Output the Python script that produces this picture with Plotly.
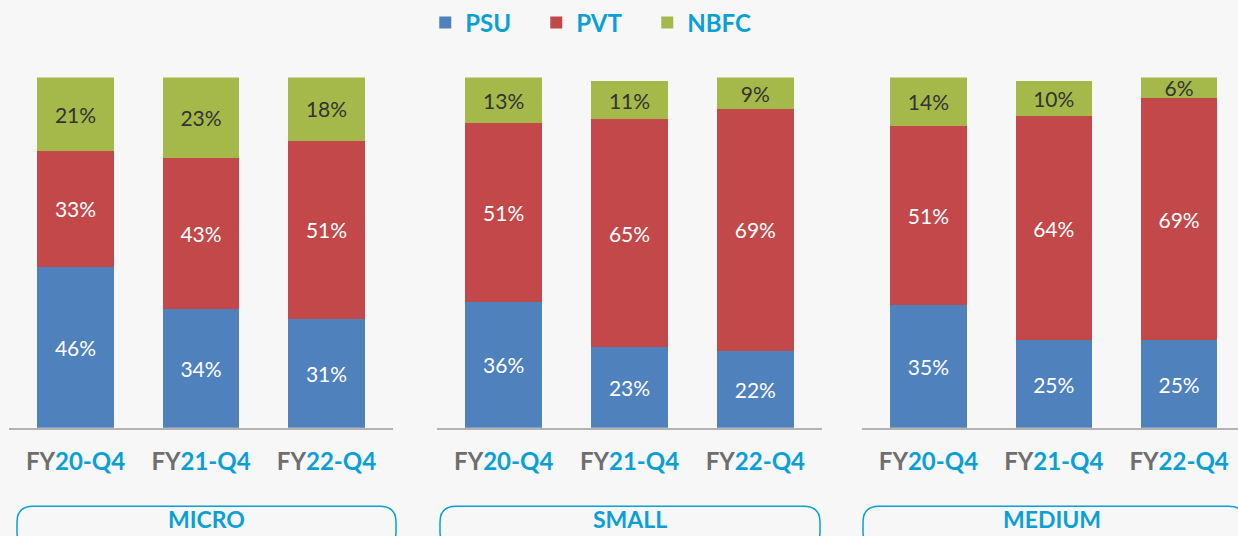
import plotly.graph_objects as go

W, H = 1238, 536

groups = ["MICRO", "SMALL", "MEDIUM"]
quarters = ["FY20-Q4", "FY21-Q4", "FY22-Q4"]
tick_fy = ["FY", "FY", "FY"]
tick_rest = ["20-Q4", "21-Q4", "22-Q4"]

psu = {"MICRO": [46, 34, 31], "SMALL": [36, 23, 22], "MEDIUM": [35, 25, 25]}
pvt = {"MICRO": [33, 43, 51], "SMALL": [51, 65, 69], "MEDIUM": [51, 64, 69]}
nbfc = {"MICRO": [21, 23, 18], "SMALL": [13, 11, 9], "MEDIUM": [14, 10, 6]}

series = [("PSU", psu, "#4f81bd", "white"),
          ("PVT", pvt, "#c3484a", "white"),
          ("NBFC", nbfc, "#a5b94b", "#333333")]

BLUE = "#0aa0d4"
GRAY = "#6e6e6e"

# panel pixel extents
x_dom = [(9, 393), (437, 822), (862, 1238)]
x_rng = [(-0.53, 2.53), (-0.53, 2.53), (-0.53, 2.47)]
y_dom = ((H - 427) / H, (H - 74) / H)

fig = go.Figure()
ticktext = [f"<span style='color:{GRAY}'>{a}</span><span style='color:{BLUE}'>{b}</span>"
            for a, b in zip(tick_fy, tick_rest)]

for i, g in enumerate(groups):
    xa = "x" if i == 0 else f"x{i+1}"
    ya = "y" if i == 0 else f"y{i+1}"
    for name, data, color, tcolor in series:
        vals = data[g]
        fig.add_trace(go.Bar(
            x=quarters, y=vals, name=name, marker_color=color,
            marker_line_width=0, width=0.61,
            text=[f"{v}%" for v in vals], textposition="inside",
            insidetextanchor="middle", textangle=0,
            textfont=dict(family="Lato", size=21, color=tcolor),
            showlegend=(i == 0), xaxis=xa, yaxis=ya, legendgroup=name,
            hoverinfo="skip"))
    axkey = "xaxis" if i == 0 else f"xaxis{i+1}"
    aykey = "yaxis" if i == 0 else f"yaxis{i+1}"
    fig.update_layout(**{
        axkey: dict(domain=[x_dom[i][0] / W, x_dom[i][1] / W], range=list(x_rng[i]),
                    anchor=ya, showline=True, linecolor="#b3b3b3", linewidth=2,
                    showgrid=False, zeroline=False, tickmode="array",
                    tickvals=quarters, ticktext=ticktext, ticks="outside",
                    ticklen=11, tickcolor="rgba(0,0,0,0)",
                    tickfont=dict(family="Lato", size=24, weight="bold"), fixedrange=True),
        aykey: dict(domain=list(y_dom), range=[0, 100], anchor=xa, visible=False,
                    showgrid=False, fixedrange=True),
    })
    # rounded group box
    x0, x1 = (17, 396) if i == 0 else ((440, 820) if i == 1 else (863, 1245))
    y0, y1 = 506, 548
    r = 16
    def px(x):
        return x / W
    def py(y):
        return 1 - y / H
    path = (f"M {px(x0+r)},{py(y0)} L {px(x1-r)},{py(y0)} "
            f"Q {px(x1)},{py(y0)} {px(x1)},{py(y0+r)} L {px(x1)},{py(y1-r)} "
            f"Q {px(x1)},{py(y1)} {px(x1-r)},{py(y1)} L {px(x0+r)},{py(y1)} "
            f"Q {px(x0)},{py(y1)} {px(x0)},{py(y1-r)} L {px(x0)},{py(y0+r)} "
            f"Q {px(x0)},{py(y0)} {px(x0+r)},{py(y0)} Z")
    fig.add_shape(type="path", path=path, xref="paper", yref="paper",
                  line=dict(color=BLUE, width=1.5), fillcolor="rgba(0,0,0,0)")
    fig.add_annotation(x=((x0 + min(x1, 1241)) / 2) / W, y=1 - 519 / H, xref="paper", yref="paper",
                       text=f"<b>{g}</b>", showarrow=False,
                       font=dict(family="Lato", size=23, color=BLUE),
                       xanchor="center", yanchor="middle")

fig.update_layout(
    width=W, height=H, barmode="stack",
    margin=dict(l=0, r=0, t=0, b=0),
    paper_bgcolor="#f7f7f7", plot_bgcolor="rgba(0,0,0,0)",
    uniformtext=dict(minsize=20, mode="show"),
    legend=dict(orientation="h", x=0.478, xanchor="center", y=1 - 19 / H, yanchor="middle",
                font=dict(family="Lato", size=24, color=BLUE, weight="bold"),
                bgcolor="rgba(0,0,0,0)", entrywidth=66, entrywidthmode="pixels",
                itemsizing="constant", traceorder="normal"),
    bargap=0.39,
)

fig.write_html("out.html", config={"displayModeBar": False},
               post_script="document.body.style.margin='0';document.body.style.overflow='hidden';")
